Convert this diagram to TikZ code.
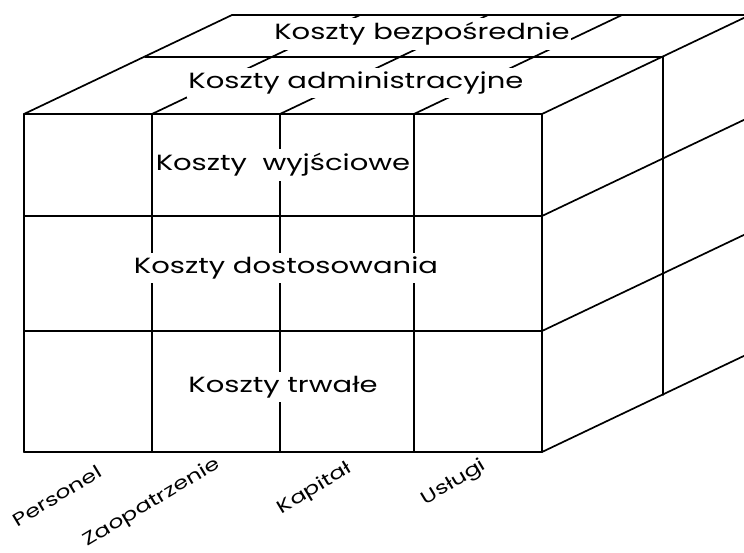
\documentclass[tikz,border=0pt]{standalone}
\usepackage{fontspec}
\setmainfont{Poppins}
\newfontfamily\cubefont{Poppins}[FakeStretch=1.32]
\usetikzlibrary{calc}

\begin{document}
\begin{tikzpicture}[x=1pt,y=-1pt,
    edge/.style={line width=1.7pt,line cap=round},
    cost/.style={fill=white,inner xsep=1pt,inner ysep=4pt,font=\cubefont\fontsize{22}{26}\selectfont},
    res/.style={rotate=31,inner sep=1pt,font=\cubefont\fontsize{18}{21}\selectfont}]
\useasboundingbox (0,0) rectangle (744,553);
\clip (0,0) rectangle (744,553);
\fill[white] (0,0) rectangle (744,553);
% front face
\foreach \x in {24,152,280,414,542}
  \draw[edge] (\x,114) -- (\x,452);
\foreach \y in {114,216,331,452}
  \draw[edge] (24,\y) -- (542,\y);
% top face
\foreach \x in {24,152,280,414,542}
  \draw[edge] (\x,114) -- ++(208,-99);
\draw[edge] (232,15) -- (750,15);
\draw[edge] (145,57) -- (663,57);
% right face
\foreach \y in {216,331,452}
  \draw[edge] (542,\y) -- ++(208,-99);
\draw[edge] (663,57) -- (663,395);
% cost layers
\node[cost] (bezp) at (422,34) {Koszty bezpośrednie};
\node[cost] (admin) at (356,83) {Koszty administracyjne};
\node[cost] (wyj) at (283,165) {Koszty\ \ wyjściowe};
\node[cost] (dost) at (286,268) {Koszty dostosowania};
\node[cost] (trw) at (283,387) {Koszty trwałe};
% resources
\node[res] (pers) at (57,496) {Personel};
\node[res] (zaop) at (152,503) {Zaopatrzenie};
\node[res] (kap) at (315,489) {Kapitał};
\node[res] (usl) at (454,483) {Usługi};
\end{tikzpicture}
\end{document}
